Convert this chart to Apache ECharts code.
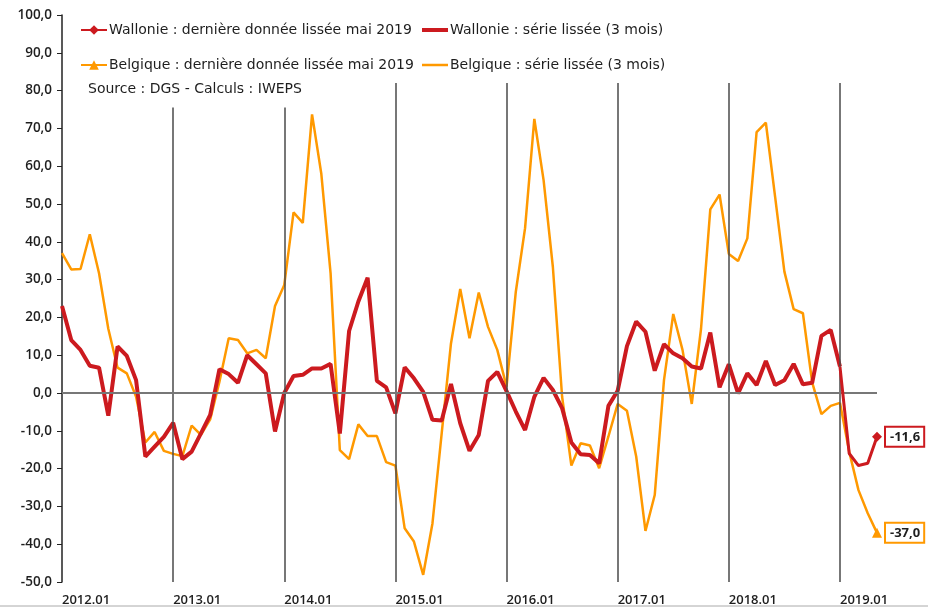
<!DOCTYPE html>
<html>
<head>
<meta charset="utf-8">
<script src="https://cdn.jsdelivr.net/npm/echarts@6/dist/echarts.min.js"></script>
<style>
  html, body { margin: 0; padding: 0; background: #fff; }
  #chart { width: 928px; height: 612px; }
</style>
</head>
<body>
<div id="chart"></div>
<script>
// months 2012.01 -> 2019.05
const years = [2012, 2013, 2014, 2015, 2016, 2017, 2018, 2019];
const lastMonth = 5;

const wallonie = [
  23, 14, 11.4, 7.2, 6.7, -6, 12.3, 9.8, 3.4, -16.8, -14.2, -11.6,
  -7.9, -17.5, -15.5, -10.7, -5.8, 6.3, 5, 2.7, 10, 7.6, 5.2, -10.2,
  0, 4.5, 4.8, 6.5, 6.5, 7.7, -10.7, 16.4, 24.2, 30.5, 3.2, 1.5,
  -5.4, 6.8, 3.9, 0.3, -7.1, -7.3, 2.4, -8, -15.3, -11.1, 3.2, 5.6,
  0.5, -4.9, -9.8, -1, 4, 0.8, -4, -13.1, -16.2, -16.4, -18.6, -3.4,
  0.6, 12.4, 18.9, 16.2, 5.9, 12.9, 10.5, 9.2, 7, 6.5, 16, 1.5,
  7.6, -0.1, 5.2, 2.1, 8.5, 2.1, 3.4, 7.7, 2.3, 2.7, 15.1, 16.7,
  7, -16, -19.2, -18.6, -11.6
];

const belgique = [
  37, 32.7, 32.8, 42, 31.7, 17, 6.7, 5.2, -1, -13.1, -10.3, -15.3,
  -16.1, -16.7, -8.6, -11.1, -7, 3, 14.5, 14, 10.5, 11.4, 9.2, 23,
  28.6, 47.8, 45, 73.7, 58, 31.7, -15.1, -17.5, -8.3, -11.4, -11.4, -18.3,
  -19.2, -35.8, -39.3, -48.1, -34.5, -10.6, 13.1, 27.5, 14.5, 26.6, 17.5, 11.4,
  1.7, 26.8, 43.6, 72.5, 56.3, 33.4, -1, -19.2, -13.3, -13.9, -19.9, -11.5,
  -2.9, -4.7, -16.8, -36.5, -27, 3.4, 20.9, 11.4, -2.9, 17, 48.6, 52.5,
  36.8, 34.9, 40.9, 69, 71.5, 51.9, 32.1, 22.2, 21.1, 2.8, -5.6, -3.4,
  -2.6, -15.5, -25.7, -31.8, -37.0
];

const RED = '#cc1a1f';
const ORANGE = '#ff9900';
const TXT = '#1e1e1e';
const FONT = 'Open Sans';
const WIDE = 'DejaVu Sans';

const months = [];
years.forEach(y => {
  for (let m = 1; m <= 12; m++) {
    if (y === years[years.length - 1] && m > lastMonth) break;
    months.push(y + '.' + String(m).padStart(2, '0'));
  }
});
const last = months.length - 1;
const splitAt = months.indexOf('2019.01');

const fmt = v => v.toFixed(1).replace('.', ',');

// main smoothed series stops at 2019.01, the "last data" series takes over
const mainPart = arr => arr.map((v, i) => (i <= splitAt ? v : null));
const lastPart = arr => arr.map((v, i) => {
  if (i < splitAt) return null;
  if (i < last) return { value: v, symbol: 'none' };
  return { value: v, label: { show: true } };
});

const boxLabel = color => ({
  show: false,
  position: 'right',
  distance: 4,
  formatter: p => fmt(p.value),
  backgroundColor: '#fff',
  borderColor: color,
  borderWidth: 2,
  padding: [3, 3, 2, 4],
  color: TXT,
  fontFamily: FONT,
  fontWeight: 'bold',
  fontSize: 13
});

// year separators (data coords), shorter where the source text sits
const yearLines = years.slice(1).map(y => {
  const idx = months.indexOf(y + '.01');
  const top = y <= 2014 ? 75.5 : 82;
  return [{ xAxis: idx, yAxis: -50 }, { xAxis: idx, yAxis: top }];
});

const chart = echarts.init(document.getElementById('chart'));

const legendItem = (name, left, top, icon, h) => ({
  data: [icon ? { name: name, icon: icon } : name],
  left: left,
  top: top,
  padding: 0,
  itemWidth: 26,
  itemHeight: h,
  selectedMode: false,
  textStyle: { color: TXT, fontFamily: WIDE, fontSize: 14, padding: [0, 0, 0, -3] }
});

chart.setOption({
  animation: false,
  backgroundColor: '#fff',
  grid: { left: 62, right: 51, top: 15, bottom: 30 },
  legend: [
    legendItem('Wallonie : dernière donnée lissée mai 2019', 80, 23, null, 12),
    legendItem('Wallonie : série lissée (3 mois)', 422, 23, 'rect', 4),
    legendItem('Belgique : dernière donnée lissée mai 2019', 80, 58, null, 12),
    legendItem('Belgique : série lissée (3 mois)', 422, 58, 'rect', 2.5)
  ],
  graphic: [
    {
      type: 'text', left: 88, top: 82,
      style: { text: 'Source : DGS - Calculs : IWEPS', fill: TXT, font: '14px "DejaVu Sans"' }
    },
    {
      type: 'line', shape: { x1: 0, y1: 606, x2: 928, y2: 606 },
      style: { stroke: '#aaa', lineWidth: 1 }
    }
  ],
  xAxis: {
    type: 'category',
    data: months,
    boundaryGap: false,
    axisLine: { show: false },
    axisTick: { show: false },
    axisLabel: {
      interval: i => i % 12 === 0,
      align: 'left',
      margin: 12,
      color: TXT,
      fontFamily: FONT,
      fontWeight: 600,
      fontSize: 13
    },
    splitLine: { show: false }
  },
  yAxis: {
    type: 'value',
    min: -50,
    max: 100,
    interval: 10,
    axisLine: { show: true, lineStyle: { color: '#222', width: 1.5 } },
    axisTick: { show: true, length: 5, lineStyle: { color: '#222' } },
    axisLabel: {
      formatter: fmt,
      color: TXT,
      fontFamily: FONT,
      fontWeight: 600,
      fontSize: 13.5,
      margin: 10
    },
    splitLine: { show: false }
  },
  series: [
    {
      name: 'Belgique : série lissée (3 mois)',
      type: 'line',
      data: mainPart(belgique),
      symbol: 'none',
      lineStyle: { color: ORANGE, width: 2.5 },
      itemStyle: { color: ORANGE },
      z: 3,
      markLine: {
        silent: true,
        symbol: 'none',
        label: { show: false },
        lineStyle: { color: '#4a4a4a', width: 1.5, type: 'solid' },
        data: yearLines.concat([{ yAxis: 0, lineStyle: { color: '#777', width: 2 } }])
      }
    },
    {
      name: 'Belgique : dernière donnée lissée mai 2019',
      type: 'line',
      data: lastPart(belgique),
      symbol: 'triangle',
      symbolSize: 10,
      showAllSymbol: true,
      lineStyle: { color: ORANGE, width: 2.5 },
      itemStyle: { color: ORANGE },
      label: boxLabel(ORANGE),
      z: 3
    },
    {
      name: 'Wallonie : série lissée (3 mois)',
      type: 'line',
      data: mainPart(wallonie),
      symbol: 'none',
      lineStyle: { color: RED, width: 4 },
      itemStyle: { color: RED },
      z: 4
    },
    {
      name: 'Wallonie : dernière donnée lissée mai 2019',
      type: 'line',
      data: lastPart(wallonie),
      symbol: 'diamond',
      symbolSize: 10,
      showAllSymbol: true,
      lineStyle: { color: RED, width: 3 },
      itemStyle: { color: RED },
      label: boxLabel(RED),
      z: 5
    }
  ]
});
</script>
</body>
</html>
